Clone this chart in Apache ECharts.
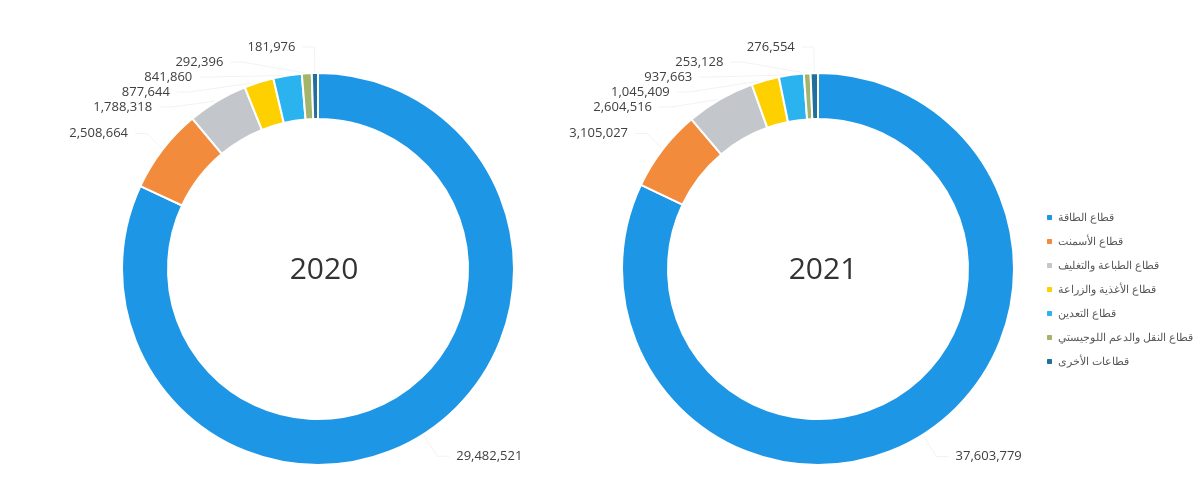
<!DOCTYPE html>
<html><head><meta charset="utf-8">
<script src="https://cdn.jsdelivr.net/npm/echarts@6/dist/echarts.min.js"></script>
<style>html,body{margin:0;padding:0;background:#fff}#c{width:1203px;height:499px}</style>
</head><body><div id="c"></div>
<script>
const categories = ['قطاع الطاقة','قطاع الأسمنت','قطاع الطباعة والتغليف','قطاع الأغذية والزراعة','قطاع التعدين','قطاع النقل والدعم اللوجيستي','قطاعات الأخرى'];
const values2020 = [29482521, 2508664, 1788318, 877644, 841860, 292396, 181976];
const values2021 = [37603779, 3105027, 2604516, 1045409, 937663, 253128, 276554];
const years = ['2020','2021'];
const colors = ['#1e96e6','#f28c3c','#c3c7cc','#ffd000','#2ab3ef','#a3b56a','#236f9c'];

const chart = echarts.init(document.getElementById('c'));
function mk(vals, cx){
  return {
    type:'pie', radius:[150,196], center:[cx,269], startAngle:90, clockwise:true,
    avoidLabelOverlap:true,
    itemStyle:{borderColor:'#fff',borderWidth:2},
    label:{show:true, position:'outside', color:'#404040', fontSize:13, fontFamily:'Open Sans',
      padding:[8,2], formatter:p=>p.value.toLocaleString('en-US')},
    labelLine:{show:true, length:26, length2:12, lineStyle:{color:'#f2f2f2',width:1}},
    emphasis:{disabled:true},
    data: categories.map((c,i)=>({name:c, value:vals[i]}))
  };
}
chart.setOption({
  animation:false,
  color:colors,
  title:[
    {text:years[0], left:319, top:250, textAlign:'center', textStyle:{fontSize:30, fontWeight:'normal', color:'#333', fontFamily:'Open Sans'}},
    {text:years[1], left:818, top:250, textAlign:'center', textStyle:{fontSize:30, fontWeight:'normal', color:'#333', fontFamily:'Open Sans'}}
  ],
  legend:{orient:'vertical', left:1040, top:207, itemWidth:7, itemHeight:7, itemGap:13, icon:'roundRect',
    textStyle:{fontSize:11, color:'#595959', fontFamily:'Noto Sans'}, data:categories},
  series:[mk(values2020,318), mk(values2021,818)]
});
</script></body></html>
